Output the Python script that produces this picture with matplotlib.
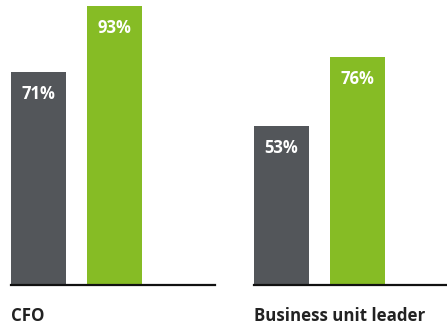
import matplotlib
matplotlib.use("Agg")
import matplotlib.pyplot as plt

groups = ["CFO", "Business unit leader"]
gray_values = [71, 53]
green_values = [93, 76]
labels = [["71%", "93%"], ["53%", "76%"]]

GRAY = "#53565A"
GREEN = "#86BC25"

W, H = 447, 326
fig = plt.figure(figsize=(W / 100, H / 100), dpi=100)
plt.rcParams['font.family'] = ['Open Sans', 'DejaVu Sans']

base_px = 285
spacing = 76.0
bw = 55 / spacing
axes_px = [(11, 215), (254, 447)]

for i, (x0, x1) in enumerate(axes_px):
    ax = fig.add_axes([x0 / W, (H - base_px) / H, (x1 - x0) / W, base_px / H])
    vals = [gray_values[i], green_values[i]]
    ax.bar([0, 1], vals, width=bw, color=[GRAY, GREEN], align="center")
    ax.set_xlim(-bw / 2, (x1 - x0) / spacing - bw / 2)
    ax.set_ylim(0, base_px / 3.0)
    for s in ["top", "right", "left"]:
        ax.spines[s].set_visible(False)
    ax.spines["bottom"].set_color("#111111")
    ax.spines["bottom"].set_linewidth(1.6)
    ax.set_xticks([])
    ax.set_yticks([])
    ax.patch.set_alpha(0)
    for j, v in enumerate(vals):
        ax.text(j, v - 7.2, labels[i][j], ha="center", va="center",
                color="white", fontsize=12, fontweight="bold")
    fig.text(x0 / W, 10 / H, groups[i], ha="left", va="center",
             fontsize=12.2, fontweight="bold", color="#222222")

fig.savefig("out.png", dpi=100)
